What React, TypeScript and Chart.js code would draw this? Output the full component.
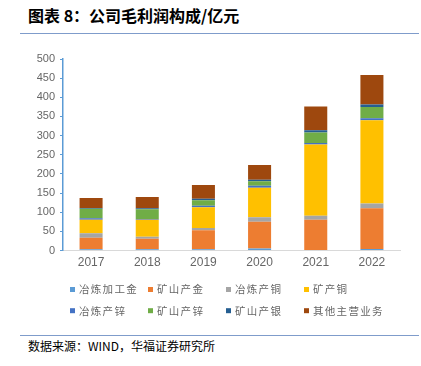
import React, { useEffect, useRef } from "react";
import { Chart, registerables } from "chart.js";
Chart.register(...registerables);

const years = ["2017", "2018", "2019", "2020", "2021", "2022"];
const smeltGold = [3, 3, 3, 5, 1, 4];
const mineGold = [30, 28, 50, 70, 79, 106];
const smeltCopper = [12, 5, 6, 12, 11, 13];
const mineCopper = [35, 44, 54, 77, 186, 217];
const smeltZinc = [4, 2, 4, 5, 4, 5];
const mineZinc = [25, 26, 14, 12, 27, 30];
const mineSilver = [2, 2, 4, 4, 6, 6];
const otherBiz = [26, 30, 36, 38, 62, 77];

const seriesNames = ["冶炼加工金", "矿山产金", "冶炼产铜", "矿产铜", "冶炼产锌", "矿山产锌", "矿山产银", "其他主营业务"];
const seriesData = [smeltGold, mineGold, smeltCopper, mineCopper, smeltZinc, mineZinc, mineSilver, otherBiz];
const seriesColors = ["#5B9BD5", "#ED7D31", "#A5A5A5", "#FFC000", "#4472C4", "#70AD47", "#255E91", "#9E480E"];
const yTicks = [0, 50, 100, 150, 200, 250, 300, 350, 400, 450, 500];

const gridLegend = {
  id: "gridLegend",
  afterDraw(chart: any) {
    const ctx = chart.ctx;
    const cols = [70, 148, 226, 304];
    const rows = [249.5, 270.7];
    ctx.save();
    chart.data.datasets.forEach((ds: any, i: number) => {
      const x = cols[i % 4];
      const y = rows[Math.floor(i / 4)];
      ctx.fillStyle = ds.backgroundColor;
      ctx.fillRect(x, y - 2.5, 5, 5);
      ctx.fillStyle = "#666666";
      ctx.font = "10.5px 'Noto Sans CJK SC'";
      ctx.textBaseline = "middle";
      ctx.textAlign = "left";
      try { (ctx as any).letterSpacing = "1.3px"; } catch (e) {}
      ctx.fillText(ds.label, x + 9, y);
      try { (ctx as any).letterSpacing = "0px"; } catch (e) {}
    });
    ctx.restore();
  },
};

export default function App() {
  const ref = useRef<HTMLCanvasElement>(null);
  useEffect(() => {
    document.body.style.margin = "0";
    if (!ref.current) return;
    const chart = new Chart(ref.current, {
      type: "bar",
      data: {
        labels: years,
        datasets: seriesNames.map((n, i) => ({
          label: n,
          data: seriesData[i],
          backgroundColor: seriesColors[i],
          borderWidth: 0,
          categoryPercentage: 1,
          barPercentage: 0.41,
        })),
      },
      options: {
        responsive: false,
        animation: false,
        devicePixelRatio: 1,
        layout: { padding: { left: 0, right: 21, top: 19, bottom: 0 } },
        plugins: { legend: { display: false }, tooltip: { enabled: false }, title: { display: false } },
        scales: {
          x: {
            stacked: true,
            grid: { display: false, drawTicks: false },
            border: { display: true, color: "#D9D9D9", width: 1 },
            ticks: { color: "#666666", font: { size: 12, family: "'Liberation Sans', Arial" }, padding: 5 },
            afterFit(scale: any) { scale.height = 79.5; },
          },
          y: {
            stacked: true,
            min: 0,
            max: 500,
            afterBuildTicks(scale: any) { scale.ticks = yTicks.map((v) => ({ value: v })); },
            grid: { display: true, drawOnChartArea: false, drawTicks: true, tickLength: 3, color: "#5B9BD5" },
            border: { display: true, color: "#5B9BD5", width: 1.5 },
            ticks: { color: "#666666", font: { size: 11, family: "'Liberation Sans', Arial" }, padding: 5 },
            afterFit(scale: any) { scale.width = 63; },
          },
        },
      },
      plugins: [gridLegend],
    });
    return () => chart.destroy();
  }, []);

  return (
    <div style={{ position: "relative", width: 421, height: 366, background: "#fff", overflow: "hidden" }}>
      <div style={{ position: "absolute", left: 28, top: 5, fontFamily: "'Noto Sans CJK SC'", fontWeight: 700, fontSize: 16, lineHeight: "20px", color: "#000", whiteSpace: "nowrap" }}>
        图表 8：公司毛利润构成/亿元
      </div>
      <div style={{ position: "absolute", left: 20, top: 32.5, width: 399, height: 1.5, background: "#7F9CCB" }} />
      <canvas ref={ref} width={421} height={290} style={{ position: "absolute", left: 0, top: 40 }} />
      <div style={{ position: "absolute", left: 20, top: 334.5, width: 399, height: 1.5, background: "#7F9CCB" }} />
      <div style={{ position: "absolute", left: 28, top: 338, fontFamily: "'Noto Sans CJK SC'", fontSize: 12, lineHeight: "16px", color: "#000", whiteSpace: "nowrap" }}>
        数据来源：WIND，华福证券研究所
      </div>
    </div>
  );
}
